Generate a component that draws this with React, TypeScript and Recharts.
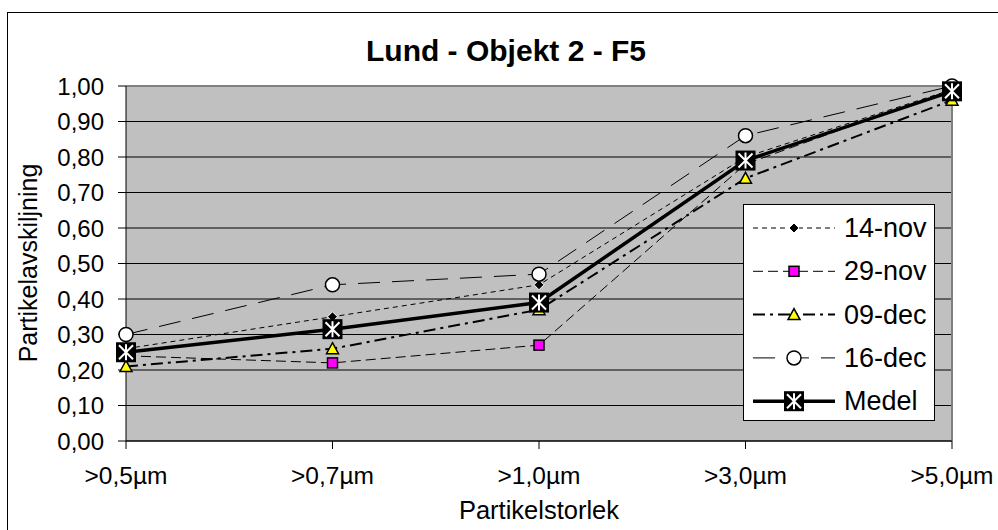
import React from 'react';
import {
  LineChart,
  Line,
  XAxis,
  YAxis,
  CartesianGrid,
  ReferenceLine,
  Legend,
  Label,
} from 'recharts';

// ── Data ──

const sizes = ['>0,5µm', '>0,7µm', '>1,0µm', '>3,0µm', '>5,0µm'];
const nov14 = [0.26, 0.35, 0.44, 0.8, 0.99];
const nov29 = [0.24, 0.22, 0.27, 0.78, 0.99];
const dec09 = [0.21, 0.26, 0.37, 0.74, 0.96];
const dec16 = [0.3, 0.44, 0.47, 0.86, 1.0];
const medel = [0.25, 0.315, 0.39, 0.79, 0.985];
const yTicks = [0, 0.1, 0.2, 0.3, 0.4, 0.5, 0.6, 0.7, 0.8, 0.9, 1.0];

const rows = sizes.map((s, i) => ({
  size: s,
  nov14: nov14[i],
  nov29: nov29[i],
  dec09: dec09[i],
  dec16: dec16[i],
  medel: medel[i],
}));

const FONT = '"Liberation Sans", Arial, sans-serif';

// ── Markers ──

function Diamond({ cx, cy }: any) {
  return <path d={`M${cx},${cy - 5} L${cx + 5},${cy} L${cx},${cy + 5} L${cx - 5},${cy} Z`} fill="#000" stroke="#fff" strokeWidth={1} />;
}

function Square({ cx, cy }: any) {
  return <rect x={cx - 5} y={cy - 5} width={10} height={10} fill="#ff00ff" stroke="#000" strokeWidth={1.5} />;
}

function Triangle({ cx, cy }: any) {
  return <path d={`M${cx},${cy - 6} L${cx + 6},${cy + 5} L${cx - 6},${cy + 5} Z`} fill="#ffff00" stroke="#000" strokeWidth={1.5} />;
}

function Circle({ cx, cy }: any) {
  return <circle cx={cx} cy={cy} r={7} fill="#fff" stroke="#000" strokeWidth={1.5} />;
}

function StarBox({ cx, cy }: any) {
  return (
    <g>
      <rect x={cx - 10} y={cy - 10} width={20} height={20} fill="#000" />
      <path
        d={`M${cx},${cy - 8} L${cx},${cy + 8} M${cx - 7},${cy - 7} L${cx + 7},${cy + 7} M${cx + 7},${cy - 7} L${cx - 7},${cy + 7}`}
        stroke="#fff"
        strokeWidth={2}
      />
    </g>
  );
}

const series = [
  { key: 'nov14', name: '14-nov', dash: '5 4', width: 1, Marker: Diamond },
  { key: 'nov29', name: '29-nov', dash: '10 5', width: 1, Marker: Square },
  { key: 'dec09', name: '09-dec', dash: '12 5 3 5', width: 2, Marker: Triangle },
  { key: 'dec16', name: '16-dec', dash: '22 12', width: 1, Marker: Circle },
  { key: 'medel', name: 'Medel', dash: undefined, width: 3.5, Marker: StarBox },
];

// ── Legend ──

function ChartLegend() {
  return (
    <div style={{ width: 192, height: 217, border: '1px solid #000', background: '#fff', boxSizing: 'border-box' }}>
      <svg width={190} height={215}>
        {series.map((s, i) => {
          const y = 23 + i * 43.3;
          const M = s.Marker;
          return (
            <g key={s.key}>
              <line x1={9} x2={91} y1={y} y2={y} stroke="#000" strokeWidth={s.width} strokeDasharray={s.dash} />
              <M cx={50} cy={y} />
              <text x={100} y={y + 9} fontSize={27} fontFamily={FONT} fill="#000">
                {s.name}
              </text>
            </g>
          );
        })}
      </svg>
    </div>
  );
}

export default function App() {
  return (
    <div style={{ position: 'absolute', left: 0, top: 0, width: 998, height: 530, overflow: 'hidden', background: '#fff' }}>
      <div style={{ position: 'absolute', left: 7, top: 12, width: 990, height: 540, border: '1px solid #000' }} />
      <div
        style={{
          position: 'absolute',
          left: 0,
          width: 1012,
          top: 33,
          textAlign: 'center',
          fontFamily: FONT,
          fontWeight: 'bold',
          fontSize: 30,
          lineHeight: '36px',
        }}
      >
        Lund - Objekt 2 - F5
      </div>
      <div style={{ position: 'absolute', left: 0, top: 0 }}>
        <LineChart width={998} height={530} data={rows} margin={{ top: 86, right: 46, bottom: 0, left: 0 }}>
          <CartesianGrid vertical={false} stroke="#000" fill="#c0c0c0" fillOpacity={1} />
          <XAxis
            dataKey="size"
            height={89}
            stroke="#000"
            tickSize={8}
            tick={{ fill: '#000', fontSize: 24.5, fontFamily: FONT }}
            tickMargin={18}
            interval={0}
          >
            <Label
              content={() => (
                <text x={539} y={519} textAnchor="middle" fontSize={25.5} fontFamily={FONT} fill="#000">
                  Partikelstorlek
                </text>
              )}
            />
          </XAxis>
          <YAxis
            width={126}
            domain={[0, 1]}
            ticks={yTicks}
            stroke="#000"
            tickSize={8}
            tickMargin={14}
            tick={{ fill: '#000', fontSize: 24, fontFamily: FONT }}
            tickFormatter={(v: number) => v.toFixed(2).replace('.', ',')}
          >
            <Label
              content={() => (
                <text
                  x={37}
                  y={263}
                  transform="rotate(-90 37 263)"
                  textAnchor="middle"
                  fontSize={25}
                  fontFamily={FONT}
                  fill="#000"
                >
                  Partikelavskiljning
                </text>
              )}
            />
          </YAxis>
          <ReferenceLine y={1} stroke="#808080" strokeWidth={2} />
          <ReferenceLine x=">5,0µm" stroke="#808080" strokeWidth={2} />
          <Legend
            layout="vertical"
            align="center"
            verticalAlign="middle"
            content={() => <ChartLegend />}
            wrapperStyle={{ position: 'absolute', left: 743, top: 204, width: 192, height: 217 }}
          />
          {series.map((s) => (
            <Line
              key={s.key}
              dataKey={s.key}
              name={s.name}
              type="linear"
              stroke="#000"
              strokeWidth={s.width}
              strokeDasharray={s.dash}
              dot={(p: any) => <s.Marker key={`${s.key}-${p.index}`} cx={p.cx} cy={p.cy} />}
              activeDot={false}
              isAnimationActive={false}
            />
          ))}
        </LineChart>
      </div>
    </div>
  );
}
